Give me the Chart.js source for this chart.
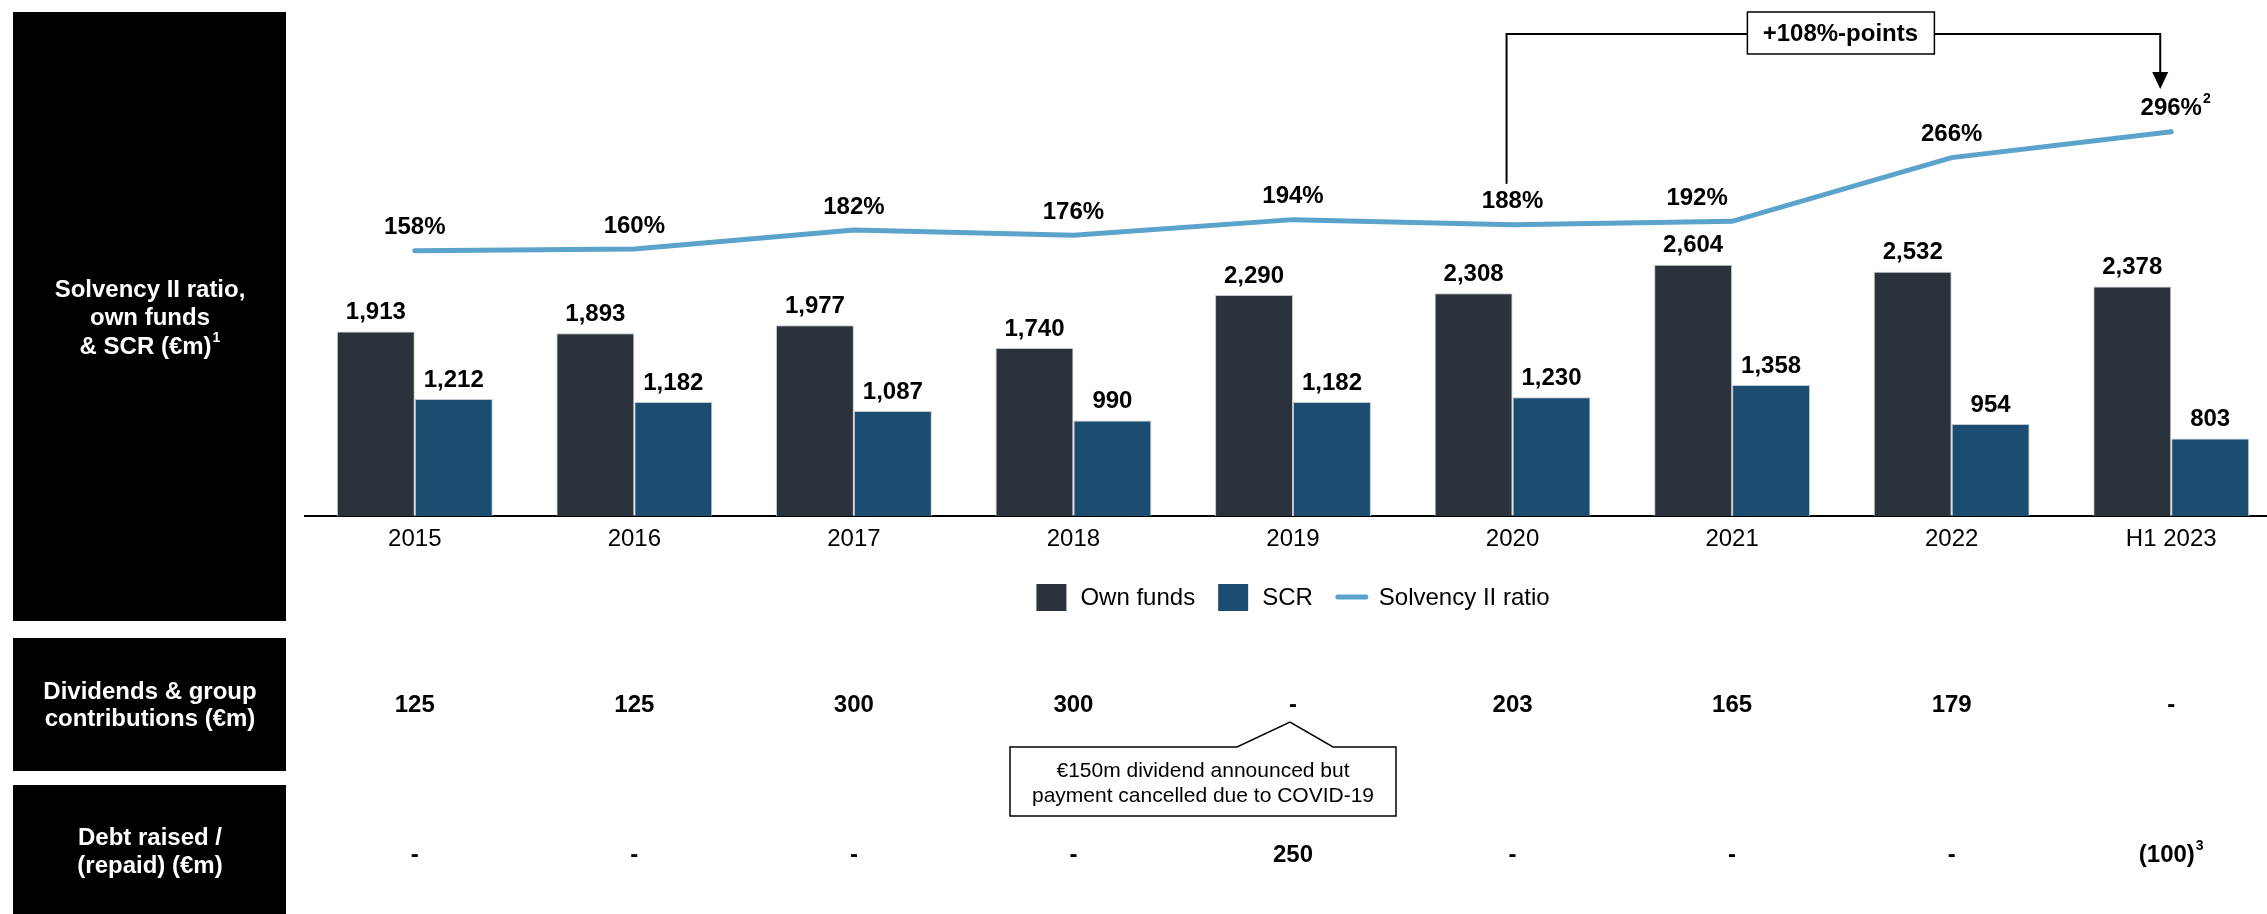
<!DOCTYPE html>
<html>
<head>
<meta charset="utf-8">
<script src="https://cdn.jsdelivr.net/npm/chart.js@4.4.0/dist/chart.umd.min.js"></script>
<style>
  html, body { margin: 0; padding: 0; background: #fff; overflow: hidden; }
  #wrap { position: relative; width: 2267px; height: 914px; overflow: hidden; }
  #solvencyChart { position: absolute; left: 0; top: 0; }
</style>
</head>
<body>
<div id="wrap"><canvas id="solvencyChart" width="2290" height="914"></canvas></div>
<script>
var years = ["2015", "2016", "2017", "2018", "2019", "2020", "2021", "2022", "H1 2023"];
var ownFunds = [1913, 1893, 1977, 1740, 2290, 2308, 2604, 2532, 2378];
var scr = [1212, 1182, 1087, 990, 1182, 1230, 1358, 954, 803];
var solvencyRatio = [158, 160, 182, 176, 194, 188, 192, 266, 296];
var ratioNotes = ["", "", "", "", "", "", "", "", "2"];
var dividends = [125, 125, 300, 300, null, 203, 165, 179, null];
var debtRaised = [null, null, null, null, 250, null, null, null, -100];
var debtNotes = ["", "", "", "", "", "", "", "", "3"];

var FONT = "'Liberation Sans', Arial, sans-serif";
function font(size, bold) {
  return (bold ? "bold " : "") + size + "px " + FONT;
}

// text with a small superscript; whole=true centres text+note together
function supText(ctx, txt, note, x, y, size, bold, whole) {
  ctx.font = font(size, bold);
  var w = ctx.measureText(txt).width;
  ctx.font = font(Math.round(size * 0.6), bold);
  var nw = note ? ctx.measureText(note).width + 1 : 0;
  var left = whole ? x - (w + nw) / 2 : x - w / 2;
  ctx.textAlign = "left";
  ctx.font = font(size, bold);
  ctx.fillText(txt, left, y);
  if (note) {
    ctx.font = font(Math.round(size * 0.6), bold);
    ctx.fillText(note, left + w + 1, y - size * 0.38);
  }
  ctx.textAlign = "center";
}

function fmtRow(v) {
  if (v === null) return "-";
  if (v < 0) return "(" + Math.abs(v) + ")";
  return String(v);
}

var overlay = {
  id: "overlay",
  afterDraw: function(chart) {
    var ctx = chart.ctx;
    var xs = chart.scales.x;
    ctx.save();

    // black side panels
    ctx.fillStyle = "#000";
    ctx.fillRect(13, 12, 273, 609);
    ctx.fillRect(13, 638, 273, 133);
    ctx.fillRect(13, 785, 273, 140);
    ctx.fillStyle = "#fff";
    ctx.textAlign = "center";
    ctx.textBaseline = "middle";
    ctx.font = font(24, true);
    ctx.fillText("Solvency II ratio,", 150, 290);
    ctx.fillText("own funds", 150, 318);
    supText(ctx, "& SCR (€m)", "1", 150, 347, 24, true, true);
    ctx.font = font(24, true);
    ctx.fillText("Dividends & group", 150, 692);
    ctx.fillText("contributions (€m)", 150, 719);
    ctx.fillText("Debt raised /", 150, 838);
    ctx.fillText("(repaid) (€m)", 150, 866);

    // bar value labels
    ctx.fillStyle = "#000";
    ctx.font = font(24, true);
    [0, 1].forEach(function(di) {
      var meta = chart.getDatasetMeta(di);
      var vals = chart.data.datasets[di].data;
      meta.data.forEach(function(bar, i) {
        ctx.fillText(vals[i].toLocaleString("en-US"), bar.x, bar.y - 19);
      });
    });

    // ratio labels
    var lineMeta = chart.getDatasetMeta(2);
    lineMeta.data.forEach(function(pt, i) {
      var dx = i === 6 ? -35 : 0;
      supText(ctx, solvencyRatio[i] + "%", ratioNotes[i], pt.x + dx, pt.y - 23, 24, true, false);
    });

    // legend
    var items = chart.data.datasets.map(function(d) {
      return { label: d.label, color: d.type === "line" ? d.borderColor : d.backgroundColor, line: d.type === "line" };
    });
    ctx.font = font(24, false);
    var total = 0;
    items.forEach(function(it, k) {
      it.w = ctx.measureText(it.label).width;
      total += (it.line ? 32 + 11 : 30 + 14) + it.w + (k < items.length - 1 ? 23 : 0);
    });
    var lx = (chart.chartArea.left + chart.chartArea.right) / 2 - total / 2;
    var ly = 597;
    ctx.textAlign = "left";
    items.forEach(function(it) {
      if (it.line) {
        ctx.strokeStyle = it.color;
        ctx.lineWidth = 5;
        ctx.lineCap = "round";
        ctx.beginPath();
        ctx.moveTo(lx + 2, ly);
        ctx.lineTo(lx + 30, ly);
        ctx.stroke();
        lx += 32 + 11;
      } else {
        ctx.fillStyle = it.color;
        ctx.fillRect(lx, ly - 13, 30, 27);
        lx += 30 + 14;
      }
      ctx.fillStyle = "#000";
      ctx.fillText(it.label, lx, ly + 1);
      lx += it.w + 23;
    });
    ctx.textAlign = "center";

    // table rows
    ctx.fillStyle = "#000";
    years.forEach(function(y, i) {
      var x = xs.getPixelForValue(i);
      ctx.font = font(24, true);
      ctx.fillText(fmtRow(dividends[i]), x, 705);
      supText(ctx, fmtRow(debtRaised[i]), debtNotes[i], x, 855, 24, true, true);
    });

    // callout under 2019 dividend
    var cx = xs.getPixelForValue(4);
    var bx = cx - 283, bw = 386, by = 747, bh = 69;
    ctx.strokeStyle = "#000";
    ctx.lineWidth = 1.5;
    ctx.fillStyle = "#fff";
    ctx.beginPath();
    ctx.moveTo(bx, by);
    ctx.lineTo(cx - 56, by);
    ctx.lineTo(cx - 3, by - 25);
    ctx.lineTo(cx + 40, by);
    ctx.lineTo(bx + bw, by);
    ctx.lineTo(bx + bw, by + bh);
    ctx.lineTo(bx, by + bh);
    ctx.closePath();
    ctx.fill();
    ctx.stroke();
    ctx.fillStyle = "#000";
    ctx.font = font(21, false);
    ctx.fillText("€150m dividend announced but", bx + bw / 2, 771);
    ctx.fillText("payment cancelled due to COVID-19", bx + bw / 2, 796);

    // +108%-points bracket
    var xL = xs.getPixelForValue(5) - 6;
    var xR = xs.getPixelForValue(8) - 11;
    ctx.lineWidth = 2;
    ctx.beginPath();
    ctx.moveTo(xL, 183);
    ctx.lineTo(xL, 34);
    ctx.lineTo(xR, 34);
    ctx.lineTo(xR, 74);
    ctx.stroke();
    ctx.fillStyle = "#000";
    ctx.beginPath();
    ctx.moveTo(xR - 8, 72);
    ctx.lineTo(xR + 8, 72);
    ctx.lineTo(xR, 89);
    ctx.closePath();
    ctx.fill();
    var mx = (xL + xR) / 2 + 7;
    ctx.fillStyle = "#fff";
    ctx.fillRect(mx - 93, 12, 187, 42);
    ctx.lineWidth = 1.5;
    ctx.strokeRect(mx - 93, 12, 187, 42);
    ctx.fillStyle = "#000";
    ctx.font = font(24, true);
    ctx.fillText("+108%-points", mx, 34);

    ctx.restore();
  }
};

new Chart("solvencyChart", {
  type: "bar",
  data: {
    labels: years,
    datasets: [{
      label: "Own funds",
      data: ownFunds,
      backgroundColor: "#2B323C",
      borderColor: "#c3c8ce",
      borderWidth: 1,
      borderSkipped: "bottom",
      yAxisID: "y",
      order: 1
    }, {
      label: "SCR",
      data: scr,
      backgroundColor: "#1B4D70",
      borderColor: "#c3c8ce",
      borderWidth: 1,
      borderSkipped: "bottom",
      yAxisID: "y",
      order: 1
    }, {
      type: "line",
      label: "Solvency II ratio",
      data: solvencyRatio,
      borderColor: "#5BA3CB",
      backgroundColor: "#5BA3CB",
      borderWidth: 5,
      borderCapStyle: "round",
      pointRadius: 0,
      tension: 0,
      yAxisID: "y1",
      order: 0
    }]
  },
  options: {
    responsive: false,
    animation: false,
    events: [],
    categoryPercentage: 0.71,
    barPercentage: 1,
    layout: { padding: { left: 305, right: 9, top: 12, bottom: 338 } },
    plugins: {
      legend: { display: false },
      tooltip: { enabled: false }
    },
    scales: {
      x: {
        grid: { display: false, drawTicks: false },
        border: { display: true, color: "#000", width: 2 },
        ticks: { color: "#000", padding: 9, font: { family: FONT, size: 24 } },
        afterFit: function(s) { s.height = 60; }
      },
      y: { display: false, min: 0, max: 5223 },
      y1: { display: false, position: "right", min: -150, max: 435 }
    }
  },
  plugins: [overlay]
});
</script>
</body>
</html>
